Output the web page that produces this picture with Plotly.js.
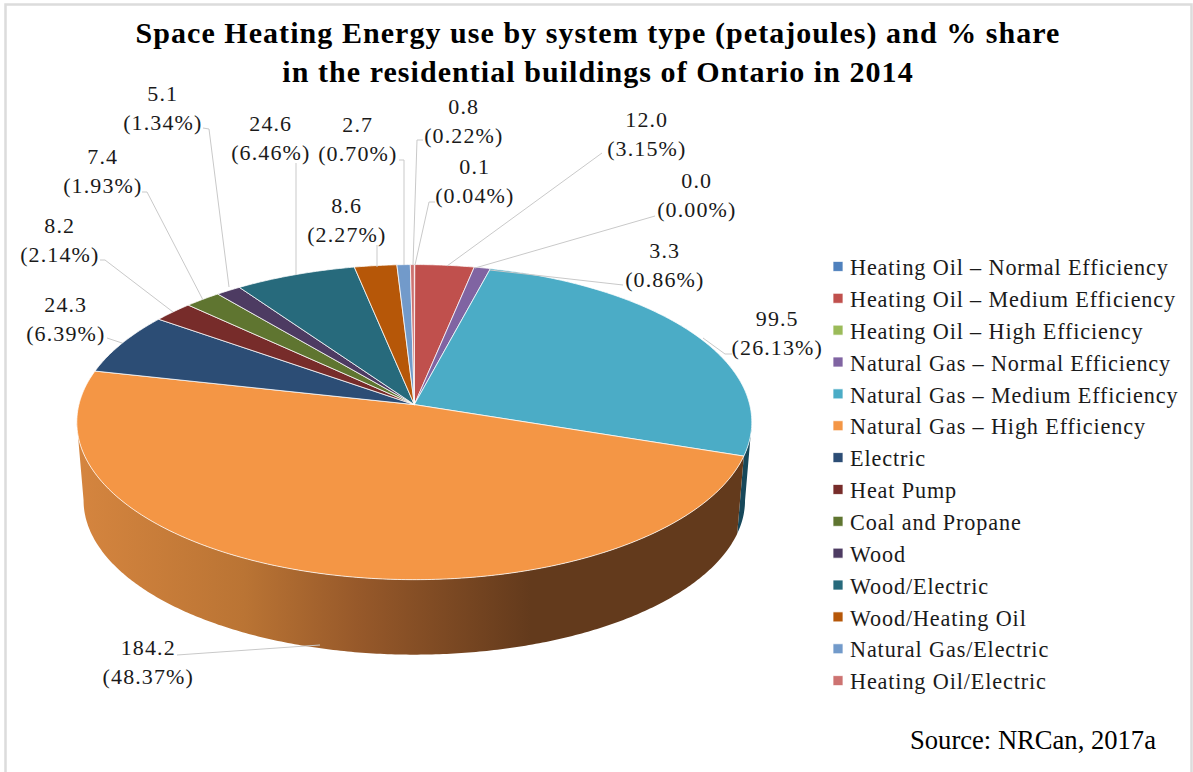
<!DOCTYPE html>
<html>
<head>
<meta charset="utf-8">
<script src="https://cdn.plot.ly/plotly-3.0.1.min.js"></script>
<style>html,body{margin:0;padding:0;background:#fff}#chart{width:1193px;height:772px}</style>
</head>
<body>
<div id="chart"></div>
<script>
// ---- data ----
var categories = ['Heating Oil – Normal Efficiency','Heating Oil – Medium Efficiency','Heating Oil – High Efficiency',
  'Natural Gas – Normal Efficiency','Natural Gas – Medium Efficiency','Natural Gas – High Efficiency','Electric','Heat Pump',
  'Coal and Propane','Wood','Wood/Electric','Wood/Heating Oil','Natural Gas/Electric','Heating Oil/Electric'];
var energyPJ = [0.1,12.0,0.0,3.3,99.5,184.2,24.3,8.2,7.4,5.1,24.6,8.6,2.7,0.8];
var sharePct = ['0.04','3.15','0.00','0.86','26.13','48.37','6.39','2.14','1.93','1.34','6.46','2.27','0.70','0.22'];

// ---- styles ----
var sliceColors = ['#4F81BD','#C0504D','#9BBB59','#8064A2','#4BACC6','#F49645','#2C4D75','#772C2A','#5F7530','#4D3B62','#276A7C','#B65708','#729ACA','#CD7371'];
var FONT = '"Liberation Serif","Times New Roman",serif';
var W = 1193, H = 772;

// label centres and leader-line routes, in page pixels
var labelX = [474,646,696,664,777,148,65,59,102,162,270,346,357,463];
var labelY = [181,134,195,265,333,662,319,240,171,108,138,220,139,121];
var leaders = [
  [[435,202],[429,202],[415,265]],
  [[602,153],[447,266]],
  [[655,216],[475,268]],
  [[623,285],[490,270]],
  [[732,354],[725,354],[703,338]],
  [[177,655],[320,645]],
  [[107,338],[122,343]],
  [[100,260],[105,260],[173,312]],
  [[142,192],[147,192],[203,300]],
  [[203,128],[209,129],[229,287]],
  [[296,163],[296,275]],
  [[377,245],[377,267]],
  [[399,160],[404,160],[404,265]],
  [[423,140],[417,140],[413,265]]
];

function px(x){return x/W;} function py(y){return 1-y/H;}

var annotations = categories.map(function(c,i){
  return {xref:'paper',yref:'paper',x:px(labelX[i]),y:py(labelY[i]),xanchor:'center',yanchor:'middle',showarrow:false,
    text:energyPJ[i].toFixed(1)+'<br>('+sharePct[i]+'%)',font:{family:FONT,size:22,color:'#1a1a1a'},align:'center'};
});
annotations.push({xref:'paper',yref:'paper',x:px(908),y:py(740),xanchor:'left',yanchor:'middle',showarrow:false,
  text:'Source: NRCan, 2017a',font:{family:FONT,size:26.6,color:'#000'}});

var shapes = leaders.map(function(pts){
  return {type:'path',xref:'paper',yref:'paper',layer:'above',
    path:pts.map(function(p,k){return (k?'L':'M')+px(p[0])+','+py(p[1]);}).join(' '),
    line:{color:'#c9c9c9',width:1}};
});
shapes.push({type:'rect',xref:'paper',yref:'paper',x0:px(5.5),x1:px(1191.5),y0:py(780),y1:py(4.5),layer:'below',
  line:{color:'#dcdcdc',width:2.5},fillcolor:'rgba(0,0,0,0)'});

// pie geometry: apex of the tilted disc and perspective of the view
var CX=414.3, CY=404.6, A=335.4, B=155.6, P=1/9, WALL_S=0.98, WALL_D=78.5, R=338;
var domain = {x:[(CX-R)/W,(CX+R)/W], y:[1-(CY+R)/H,1-(CY-R)/H]};

var common = {type:'pie',labels:categories,values:energyPJ,sort:false,direction:'clockwise',rotation:0,domain:domain,
  textinfo:'none',hovertemplate:'%{label}<br>%{value:.1f} PJ (%{percent})<extra></extra>'};
var wallTrace = Object.assign({},common,{name:'side',showlegend:false,hoverinfo:'skip',hovertemplate:undefined,
  marker:{colors:sliceColors,line:{width:0}}});
var topTrace = Object.assign({},common,{name:'top',showlegend:true,
  marker:{colors:sliceColors,line:{color:'rgba(255,255,255,0.75)',width:1}}});

var layout = {
  width:W,height:H,margin:{l:0,r:0,t:0,b:0},paper_bgcolor:'#fff',plot_bgcolor:'#fff',
  title:{text:'<b>Space Heating Energy use by system type (petajoules) and % share<br>in the residential buildings of Ontario in 2014</b>',
    x:598/W,xanchor:'center',xref:'paper',y:1-43/H,yanchor:'top',yref:'container',pad:{t:0,b:0,l:0,r:0},
    font:{family:FONT,size:30,color:'#000'}},
  showlegend:true,
  legend:{x:px(810),xanchor:'left',y:py(245.5),yanchor:'top',bgcolor:'rgba(0,0,0,0)',borderwidth:0,traceorder:'normal',
    font:{family:FONT,size:22.2,color:'#1a1a1a'},itemclick:false,itemdoubleclick:false},
  annotations:annotations,shapes:shapes
};

// perspective projection of a point at clockwise angle a on the rim
function rim(a,s,d){
  var u=Math.sin(a), v=-Math.cos(a), k=1/(1-P*v);
  return [CX+A*u*k*s, CY+B*v*k*s+d];
}
function arcPts(a0,a1,s,d){
  var n=Math.max(2,Math.ceil(Math.abs(a1-a0)/0.01)), out=[];
  for(var i=0;i<=n;i++){out.push(rim(a0+(a1-a0)*i/n,s,d));}
  return out;
}
function toD(pts){return pts.map(function(p,i){return (i?'L':'M')+p[0].toFixed(2)+','+p[1].toFixed(2);}).join('');}

Plotly.newPlot('chart',[wallTrace,topTrace],layout,{displayModeBar:false}).then(function(gd){
  var svg=gd.querySelector('.main-svg');
  var defs=svg.querySelector('defs');
  var ns='http://www.w3.org/2000/svg';
  var g=document.createElementNS(ns,'linearGradient');
  g.setAttribute('id','wallGrad');g.setAttribute('gradientUnits','userSpaceOnUse');
  g.setAttribute('x1','77');g.setAttribute('x2','745');g.setAttribute('y1','0');g.setAttribute('y2','0');
  [[0,'#D5853F'],[0.25,'#BA7434'],[0.42,'#97592A'],[0.68,'#633A1C'],[1,'#633A1C']].forEach(function(s){
    var st=document.createElementNS(ns,'stop');st.setAttribute('offset',s[0]);st.setAttribute('stop-color',s[1]);g.appendChild(st);
  });
  defs.appendChild(g);

  var traces=gd.querySelectorAll('.pielayer .trace');
  // side wall: only the part of the rim facing the viewer
  var aR=Math.acos(-P), aL=2*Math.PI-aR;
  traces[0].querySelectorAll('.slice').forEach(function(el){
    var pt=el.__data__, path=el.querySelector('path.surface');
    if(!path) return;
    var a0=Math.max(pt.startangle,aR), a1=Math.min(pt.stopangle,aL);
    if(a1<=a0||!pt.v){path.setAttribute('d','M0,0');path.style.display='none';return;}
    var d=toD(arcPts(a0,a1,1,0).concat(arcPts(a1,a0,WALL_S,WALL_D)))+'Z';
    path.setAttribute('d',d);
    path.style.strokeWidth='0';
    path.style.fill = pt.i===5 ? 'url(#wallGrad)' : '#17485A';
  });
  // top face
  traces[1].querySelectorAll('.slice').forEach(function(el){
    var pt=el.__data__, path=el.querySelector('path.surface');
    if(!path) return;
    if(!pt.v){path.style.display='none';return;}
    path.setAttribute('d',toD([[CX,CY]].concat(arcPts(pt.startangle,pt.stopangle,1,0)))+'Z');
  });
  // legend swatches
  gd.querySelectorAll('.legend .traces').forEach(function(t){
    var sw=t.querySelector('.legendpie');
    if(sw){sw.setAttribute('d','M5,5H-5V-5H5Z');sw.setAttribute('transform','translate(28,0)');}
  });
  var sb=gd.querySelector('.legend .scrollbox');
  if(sb){sb.removeAttribute('clip-path');sb.style.clipPath='none';}
  // tracking as in the source picture
  gd.querySelectorAll('.annotation-text').forEach(function(t){
    if(t.textContent.indexOf('Source')<0) t.style.letterSpacing='1.1px';
  });
  gd.querySelectorAll('.legendtext').forEach(function(t){t.style.letterSpacing='0.87px';});
  var tt=gd.querySelector('.gtitle');
  if(tt) tt.style.letterSpacing='1.05px';
});
</script>
</body>
</html>
